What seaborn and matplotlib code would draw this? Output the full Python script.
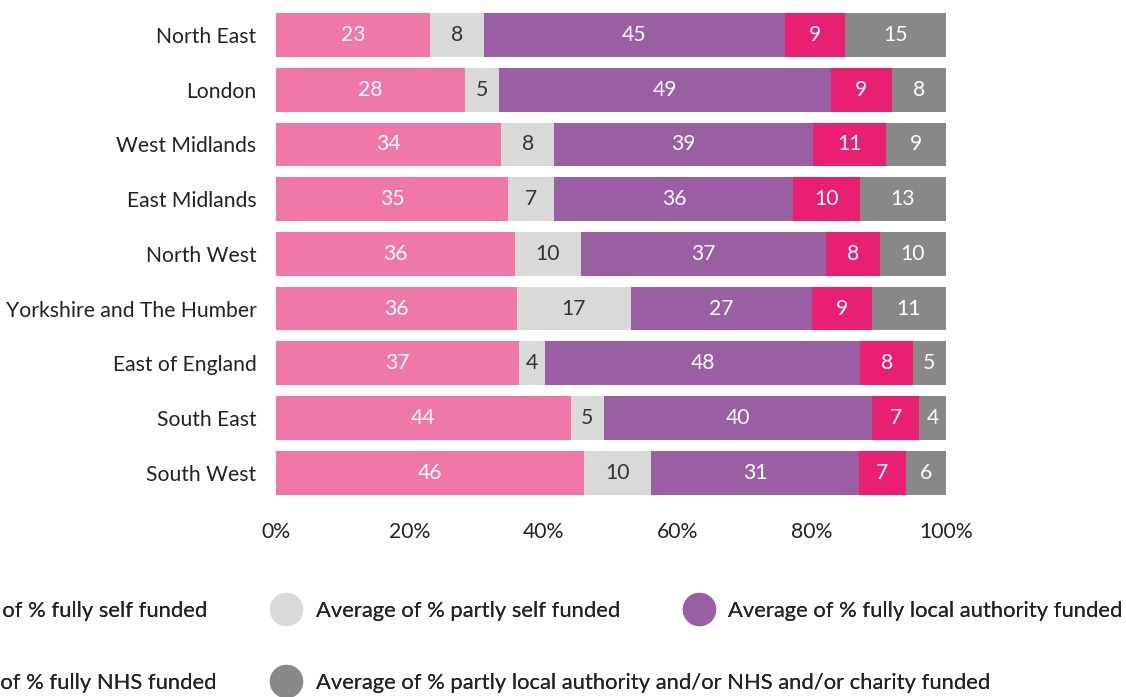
import numpy as np
import pandas as pd
import matplotlib.pyplot as plt
from matplotlib.lines import Line2D
import seaborn as sns

regions = ['North East', 'London', 'West Midlands', 'East Midlands', 'North West',
           'Yorkshire and The Humber', 'East of England', 'South East', 'South West']
fully_self = [23, 28, 34, 35, 36, 36, 37, 44, 46]
partly_self = [8, 5, 8, 7, 10, 17, 4, 5, 10]
fully_la = [45, 49, 39, 36, 37, 27, 48, 40, 31]
fully_nhs = [9, 9, 11, 10, 8, 9, 8, 7, 7]
partly_mixed = [15, 8, 9, 13, 10, 11, 5, 4, 6]

series = ['Average of % fully self funded', 'Average of % partly self funded',
          'Average of % fully local authority funded', 'Average of % fully NHS funded',
          'Average of % partly local authority and/or NHS and/or charity funded']
colors = ['#F078A8', '#D9D9D9', '#9A5EA2', '#E91F74', '#888888']
label_colors = ['white', '#333333', 'white', 'white', 'white']

df = pd.DataFrame(dict(zip(series, [fully_self, partly_self, fully_la, fully_nhs, partly_mixed])),
                  index=regions)
# rounded values don't always add to 100, scale each row to 100%
norm = df.div(df.sum(axis=1), axis=0) * 100
cum = norm.cumsum(axis=1)

sns.set_style('white')
plt.rcParams['font.family'] = ['Lato', 'DejaVu Sans']
FS = 15.2

fig = plt.figure(figsize=(11.26, 6.97), dpi=100)
ax = fig.add_axes([0.245, 0.2826, 0.595, 0.7064])

# draw cumulative totals from the widest down so each segment sits on top
for i in reversed(range(len(series))):
    sns.barplot(x=cum[series[i]].values, y=regions, color=colors[i], orient='h',
                width=0.8, saturation=1, linewidth=0, ax=ax)

for i, s in enumerate(series):
    mid = cum[s] - norm[s] / 2
    for j, r in enumerate(regions):
        ax.text(mid[r], j, str(df.loc[r, s]), ha='center', va='center',
                color=label_colors[i], fontsize=FS)

ax.set_xlim(0, 100)
ax.set_ylim(len(regions) - 0.5, -0.5)
ax.set_xticks([0, 20, 40, 60, 80, 100])
ax.set_xticklabels([f'{t}%' for t in [0, 20, 40, 60, 80, 100]])
ax.tick_params(axis='both', length=0, labelsize=FS, colors='#222222')
ax.tick_params(axis='y', pad=14)
ax.tick_params(axis='x', pad=16)
ax.set_xlabel('')
ax.set_ylabel('')
sns.despine(ax=ax, left=True, bottom=True)

# legend laid out entry by entry, first column runs off the left edge
handles = [Line2D([], [], marker='o', linestyle='', markersize=23, color=c) for c in colors]
spots = [(0.184, 0.1234, 'center right'), (0.2384, 0.1234, 'center left'),
         (0.605, 0.1234, 'center left'), (0.192, 0.0201, 'center right'),
         (0.2384, 0.0201, 'center left')]
for h, lab, (x, y, loc) in zip(handles, series, spots):
    leg = fig.legend(handles=[h], labels=[lab], loc=loc, bbox_to_anchor=(x, y),
                     frameon=False, fontsize=15.8, borderpad=0, borderaxespad=0,
                     handlelength=1.6, handletextpad=0.55, labelcolor='#222222')
    fig.add_artist(leg)

fig.savefig('out.png', dpi=100)
